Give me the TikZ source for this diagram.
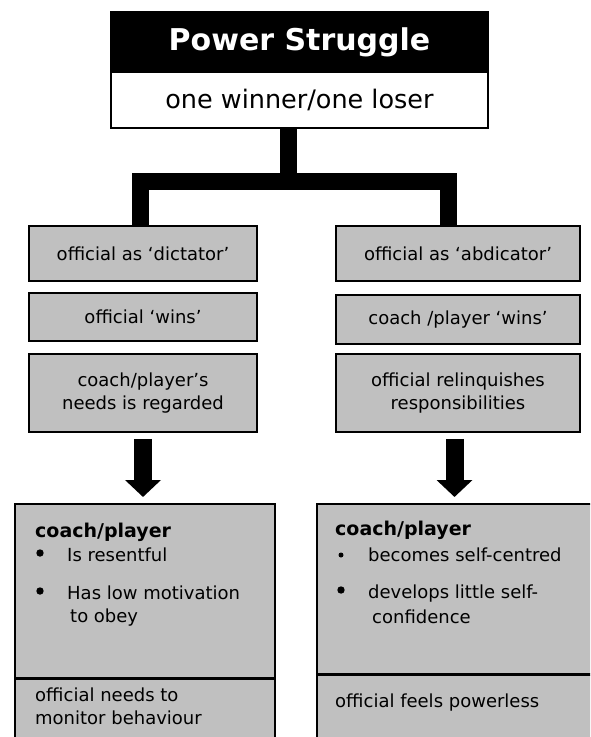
\documentclass[tikz,border=0pt]{standalone}
\usepackage{fontspec}
\setmainfont{DejaVu Sans}
\usetikzlibrary{arrows.meta}
\definecolor{boxgrey}{RGB}{192,192,192}
\tikzset{
  stage/.style={draw, line width=1.5pt, fill=boxgrey, align=center, inner sep=0pt,
    font=\fontsize{18}{23.5}\selectfont},
  bigbox/.style={draw, line width=1.5pt, fill=boxgrey, inner sep=0pt, anchor=north west},
  conn/.style={line width=17pt, line join=miter},
  blockarrow/.style={line width=18pt, -{Triangle[width=35pt,length=17pt]},
    shorten <=6pt, shorten >=6pt},
  plain/.style={inner sep=0pt, anchor=base west, font=\fontsize{18}{22}\selectfont},
  head/.style={inner sep=0pt, anchor=base west, font=\bfseries\fontsize{19}{22}\selectfont}
}

\begin{document}
\begin{tikzpicture}[x=1pt, y=-1pt]
		%%%%% START %%%%%
		\useasboundingbox (0,0) rectangle (590,737);
		\clip (0,0) rectangle (590,737);
		
		% title
		\node[draw, line width=1.5pt, fill=black, text=white, inner sep=0pt,
		  minimum width=377pt, minimum height=60pt, font=\bfseries\fontsize{30}{30}\selectfont]
		  (title) at (299.5,42) {Power Struggle};
		\node[draw, line width=1.5pt, fill=white, inner sep=0pt,
		  minimum width=377pt, minimum height=56pt, font=\fontsize{25.5}{26}\selectfont]
		  (sub) at (299.5,100) {one winner/one loser};
		
		% left column
		\node[stage, minimum width=228pt, minimum height=55pt] (dict) at (143,253.5) {official as ‘dictator’};
		\node[stage, minimum width=228pt, minimum height=48pt] (owins) at (143,317) {official ‘wins’};
		\node[stage, minimum width=228pt, minimum height=78pt] (needs) at (143,393) {coach/player’s\\needs is regarded};
		
		% right column
		\node[stage, minimum width=244pt, minimum height=55pt] (abdic) at (458,253.5) {official as ‘abdicator’};
		\node[stage, minimum width=244pt, minimum height=49pt] (cwins) at (458,319.5) {coach /player ‘wins’};
		\node[stage, minimum width=244pt, minimum height=78pt] (relinq) at (458,393) {official relinquishes\\responsibilities};
		
		% fork
		\coordinate (jn) at (288.5,181.5);
		\coordinate (jl) at (140.5,181.5);
		\coordinate (jr) at (448.5,181.5);
		\draw[conn] (jn |- sub.south) -- (jn);
		\draw[conn] (jl |- dict.north) -- (jl) -- (jr) -- (jr |- abdic.north);
		
		% outcome boxes
		\node[bigbox, minimum width=260pt, minimum height=174pt] (lout) at (14,503) {};
		\node[bigbox, minimum width=260pt, minimum height=90pt] (lres) at (lout.south west) {};
		\node[bigbox, minimum width=300pt, minimum height=170pt] (rout) at (316,503) {};
		\node[bigbox, minimum width=300pt, minimum height=90pt] (rres) at (rout.south west) {};
		
		\draw[blockarrow] (needs.south) -- (needs.south |- lout.north);
		\draw[blockarrow] ([xshift=-3.5pt]relinq.south) -- ([xshift=-3.5pt]relinq.south |- rout.north);
		
		% left text
		\node[head] (lhead) at (35,537) {coach/player};
		\node[plain] (lone) at (67,561) {Is resentful};
		\node[plain] (ltwo) at (67,599) {Has low motivation};
		\node[plain] (ltwob) at (70,622) {to obey};
		\fill (40,553) circle (3.7pt);
		\fill (40,591) circle (3.7pt);
		\node[plain] (lmon) at (35,701) {official needs to};
		\node[plain] (lmonb) at (35,724) {monitor behaviour};
		
		% right text
		\node[head] (rhead) at (335,535) {coach/player};
		\node[plain] (rone) at (368,561) {becomes self-centred};
		\node[plain] (rtwo) at (368,598) {develops little self-};
		\node[plain] (rtwob) at (372,623) {confidence};
		\fill (341,555) circle (2.5pt);
		\fill (341,590) circle (3.7pt);
		\node[plain] (rpow) at (335,707) {official feels powerless};
		%%%%% END %%%%%
\end{tikzpicture}
\end{document}
